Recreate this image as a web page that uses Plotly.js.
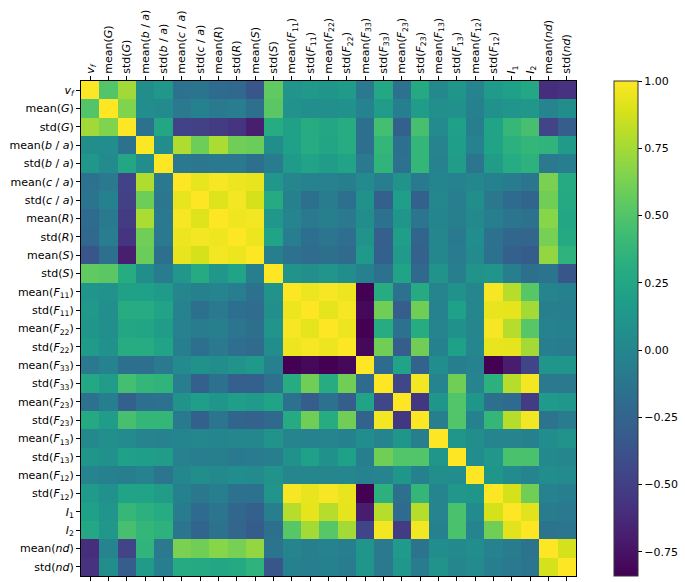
<!DOCTYPE html>
<html>
<head>
<meta charset="utf-8">
<script src="https://cdn.plot.ly/plotly-3.0.1.min.js"></script>
<style>body{margin:0;background:#fff}</style>
</head>
<body>
<div id="chart" style="width:685px;height:582px"></div>
<script>
// variable names, in matrix order (top to bottom, left to right)
var labels = [
    '<i>v</i><sub><i>f</i></sub>', 'mean(<i>G</i>)', 'std(<i>G</i>)',
    'mean(<i>b</i> / <i>a</i>)', 'std(<i>b</i> / <i>a</i>)',
    'mean(<i>c</i> / <i>a</i>)', 'std(<i>c</i> / <i>a</i>)',
    'mean(<i>R</i>)', 'std(<i>R</i>)', 'mean(<i>S</i>)', 'std(<i>S</i>)',
    'mean(<i>F</i><sub>11</sub>)', 'std(<i>F</i><sub>11</sub>)',
    'mean(<i>F</i><sub>22</sub>)', 'std(<i>F</i><sub>22</sub>)',
    'mean(<i>F</i><sub>33</sub>)', 'std(<i>F</i><sub>33</sub>)',
    'mean(<i>F</i><sub>23</sub>)', 'std(<i>F</i><sub>23</sub>)',
    'mean(<i>F</i><sub>13</sub>)', 'std(<i>F</i><sub>13</sub>)',
    'mean(<i>F</i><sub>12</sub>)', 'std(<i>F</i><sub>12</sub>)',
    '<i>I</i><sub>1</sub>', '<i>I</i><sub>2</sub>',
    'mean(<i>nd</i>)', 'std(<i>nd</i>)'
];

// correlation matrix, one row per variable
var corr = [
    [1, 0.5, 0.74, 0.06, 0.13, -0.15, -0.13, -0.2, -0.22, -0.35, 0.55, 0.11, 0.14, 0.12, 0.16, -0.1, 0.26, -0.15, 0.27, 0.02, 0.12, -0.02, 0.15, 0.2, 0.26, -0.6, -0.58],
    [0.5, 1, 0.65, 0.05, 0.04, -0.1, -0.04, -0.09, -0.07, -0.16, 0.53, 0.09, 0.07, 0.07, 0.08, -0.03, 0.17, -0.06, 0.17, 0.07, 0.08, -0.04, 0.08, 0.11, 0.13, -0.02, 0.06],
    [0.74, 0.65, 1, -0.15, 0.25, -0.48, -0.49, -0.52, -0.56, -0.69, 0.3, 0.21, 0.3, 0.25, 0.3, -0.16, 0.45, -0.28, 0.46, 0.04, 0.2, -0.05, 0.22, 0.39, 0.46, -0.47, -0.3],
    [0.06, 0.05, -0.15, 1, 0.05, 0.78, 0.59, 0.77, 0.6, 0.58, 0.06, 0.2, 0.29, 0.24, 0.29, -0.16, 0.38, -0.17, 0.38, -0.02, 0.18, -0.03, 0.22, 0.33, 0.38, 0.36, 0.16],
    [0.13, 0.04, 0.25, 0.05, 1, -0.1, -0.11, -0.1, -0.1, -0.16, -0.08, 0.16, 0.22, 0.17, 0.22, -0.1, 0.36, -0.15, 0.38, -0.03, 0.17, -0.12, 0.17, 0.29, 0.34, -0.1, -0.06],
    [-0.15, -0.1, -0.48, 0.78, -0.1, 1, 0.94, 0.98, 0.95, 0.94, 0.13, 0.0, -0.03, -0.03, -0.05, 0.03, -0.07, 0.1, -0.09, -0.01, -0.03, 0.01, -0.04, -0.08, -0.12, 0.63, 0.28],
    [-0.13, -0.04, -0.49, 0.59, -0.11, 0.94, 1, 0.91, 0.97, 0.88, 0.28, -0.04, -0.16, -0.08, -0.17, 0.08, -0.28, 0.18, -0.28, 0.01, -0.07, 0.06, -0.11, -0.2, -0.25, 0.6, 0.27],
    [-0.2, -0.09, -0.52, 0.77, -0.1, 0.98, 0.91, 1, 0.96, 0.97, 0.13, -0.02, -0.1, -0.05, -0.1, 0.05, -0.15, 0.12, -0.12, -0.01, -0.05, 0.02, -0.06, -0.12, -0.15, 0.67, 0.25],
    [-0.22, -0.07, -0.56, 0.6, -0.1, 0.95, 0.97, 0.96, 1, 0.95, 0.22, -0.07, -0.17, -0.12, -0.18, 0.1, -0.29, 0.18, -0.25, 0.0, -0.09, 0.05, -0.15, -0.23, -0.24, 0.62, 0.27],
    [-0.35, -0.16, -0.69, 0.58, -0.16, 0.94, 0.88, 0.97, 0.95, 1, -0.05, -0.15, -0.19, -0.16, -0.21, 0.14, -0.28, 0.15, -0.27, 0.01, -0.08, 0.03, -0.15, -0.28, -0.31, 0.7, 0.35],
    [0.55, 0.53, 0.3, 0.06, -0.08, 0.13, 0.28, 0.13, 0.22, -0.05, 1, 0.1, 0.07, 0.11, 0.05, -0.04, -0.15, 0.22, -0.22, 0.1, -0.05, 0.1, 0.11, -0.05, -0.16, -0.13, -0.35],
    [0.11, 0.09, 0.21, 0.2, 0.16, 0.0, -0.04, -0.02, -0.07, -0.15, 0.1, 1, 0.95, 0.98, 0.95, -0.84, 0.3, -0.15, 0.28, -0.02, 0.08, 0.0, 0.98, 0.8, 0.52, -0.02, -0.04],
    [0.14, 0.07, 0.3, 0.29, 0.22, -0.03, -0.16, -0.1, -0.17, -0.19, 0.07, 0.95, 1, 0.93, 0.98, -0.8, 0.6, -0.3, 0.6, -0.03, 0.2, 0.0, 0.94, 0.93, 0.75, -0.05, -0.06],
    [0.12, 0.07, 0.25, 0.24, 0.17, -0.03, -0.08, -0.05, -0.12, -0.16, 0.11, 0.98, 0.93, 1, 0.95, -0.84, 0.3, -0.15, 0.3, -0.02, 0.08, 0.0, 0.98, 0.8, 0.52, -0.03, -0.04],
    [0.16, 0.08, 0.3, 0.29, 0.22, -0.05, -0.17, -0.1, -0.18, -0.21, 0.05, 0.95, 0.98, 0.95, 1, -0.8, 0.6, -0.3, 0.6, -0.04, 0.2, 0.0, 0.94, 0.93, 0.75, -0.06, -0.08],
    [-0.1, -0.03, -0.16, -0.16, -0.1, 0.03, 0.08, 0.05, 0.1, 0.14, -0.04, -0.84, -0.8, -0.84, -0.8, 1, -0.2, 0.22, -0.26, 0.05, -0.05, -0.03, -0.84, -0.7, -0.46, 0.12, 0.12],
    [0.26, 0.17, 0.45, 0.38, 0.36, -0.07, -0.28, -0.15, -0.29, -0.28, -0.15, 0.3, 0.6, 0.3, 0.6, -0.2, 1, -0.45, 0.97, -0.02, 0.6, -0.02, 0.33, 0.8, 0.97, -0.1, -0.1],
    [-0.15, -0.06, -0.28, -0.17, -0.15, 0.1, 0.18, 0.12, 0.18, 0.15, 0.22, -0.15, -0.3, -0.15, -0.3, 0.22, -0.45, 1, -0.55, 0.12, 0.5, 0.12, -0.16, -0.2, -0.52, 0.15, 0.13],
    [0.27, 0.17, 0.46, 0.38, 0.38, -0.09, -0.28, -0.12, -0.25, -0.27, -0.22, 0.28, 0.6, 0.3, 0.6, -0.26, 0.97, -0.55, 1, -0.05, 0.5, -0.04, 0.38, 0.8, 0.97, -0.14, -0.08],
    [0.02, 0.07, 0.04, -0.02, -0.03, -0.01, 0.01, -0.01, 0.0, 0.01, 0.1, -0.02, -0.03, -0.02, -0.04, 0.05, -0.02, 0.12, -0.05, 1, 0.12, 0.06, -0.02, -0.02, -0.04, 0.05, 0.1],
    [0.12, 0.08, 0.2, 0.18, 0.17, -0.03, -0.07, -0.05, -0.09, -0.08, -0.05, 0.08, 0.2, 0.08, 0.2, -0.05, 0.6, 0.5, 0.5, 0.12, 1, 0.05, 0.13, 0.47, 0.47, 0.02, 0.0],
    [-0.02, -0.04, -0.05, -0.03, -0.12, 0.01, 0.06, 0.02, 0.05, 0.03, 0.1, 0.0, 0.0, 0.0, 0.0, -0.03, -0.02, 0.12, -0.04, 0.06, 0.05, 1, 0.12, 0.03, -0.02, 0.05, 0.03],
    [0.15, 0.08, 0.22, 0.22, 0.17, -0.04, -0.11, -0.06, -0.15, -0.15, 0.11, 0.98, 0.94, 0.98, 0.94, -0.84, 0.33, -0.16, 0.38, -0.02, 0.13, 0.12, 1, 0.88, 0.6, -0.03, -0.06],
    [0.2, 0.11, 0.39, 0.33, 0.29, -0.08, -0.2, -0.12, -0.23, -0.28, -0.05, 0.8, 0.93, 0.8, 0.93, -0.7, 0.8, -0.2, 0.8, -0.02, 0.47, 0.03, 0.88, 1, 0.92, -0.08, -0.1],
    [0.26, 0.13, 0.46, 0.38, 0.34, -0.12, -0.25, -0.15, -0.24, -0.31, -0.16, 0.52, 0.75, 0.52, 0.75, -0.46, 0.97, -0.52, 0.97, -0.04, 0.47, -0.02, 0.6, 0.92, 1, -0.14, -0.12],
    [-0.6, -0.02, -0.47, 0.36, -0.1, 0.63, 0.6, 0.67, 0.62, 0.7, -0.13, -0.02, -0.05, -0.03, -0.06, 0.12, -0.1, 0.15, -0.14, 0.05, 0.02, 0.05, -0.03, -0.08, -0.14, 1, 0.88],
    [-0.58, 0.06, -0.3, 0.16, -0.06, 0.28, 0.27, 0.25, 0.27, 0.35, -0.35, -0.04, -0.06, -0.04, -0.08, 0.12, -0.1, 0.13, -0.08, 0.1, 0.0, 0.03, -0.06, -0.1, -0.12, 0.88, 1]
];

var cbarTicks = [-0.75, -0.5, -0.25, 0, 0.25, 0.5, 0.75, 1];
var cbarText = ['\u22120.75', '\u22120.50', '\u22120.25', '0.00', '0.25', '0.50', '0.75', '1.00'];

var idx = labels.map((_, i) => i);
var font = {family: 'DejaVu Sans, sans-serif', size: 11, color: '#000'};

var heat = {
    type: 'heatmap',
    z: corr,
    x: idx,
    y: idx,
    colorscale: 'Viridis',
    zmin: -0.84,
    zmax: 1,
    colorbar: {
        x: 1.077, xanchor: 'left', xpad: 0,
        y: 0.5, yanchor: 'middle', ypad: 0,
        len: 1, thickness: 24,
        outlinewidth: 1, outlinecolor: '#333',
        tickvals: cbarTicks, ticktext: cbarText,
        ticks: 'outside', ticklen: 4, tickcolor: '#000',
        tickfont: font
    }
};

// empty trace so the bottom tick marks get drawn
var bottom = {type: 'scatter', x: idx, y: idx, mode: 'none', xaxis: 'x2', hoverinfo: 'skip', showlegend: false};

var axisStyle = {
    tickvals: idx, ticktext: labels,
    ticks: 'outside', ticklen: 4, tickcolor: '#000',
    showline: true, mirror: true, linecolor: '#000', linewidth: 1,
    showgrid: false, zeroline: false, tickfont: font
};

var layout = {
    width: 685, height: 582,
    margin: {l: 81, r: 109, t: 81, b: 6},
    paper_bgcolor: '#fff', plot_bgcolor: '#fff',
    font: font,
    xaxis: Object.assign({}, axisStyle, {side: 'top', tickangle: -90, range: [-0.5, 26.5]}),
    xaxis2: {overlaying: 'x', anchor: 'y', side: 'bottom', range: [-0.5, 26.5], tickvals: idx,
             showticklabels: false, ticks: 'outside', ticklen: 4, tickcolor: '#000',
             showgrid: false, zeroline: false},
    yaxis: Object.assign({}, axisStyle, {range: [26.5, -0.5]})
};

Plotly.newPlot('chart', [heat, bottom], layout, {displayModeBar: false});
</script>
</body>
</html>
